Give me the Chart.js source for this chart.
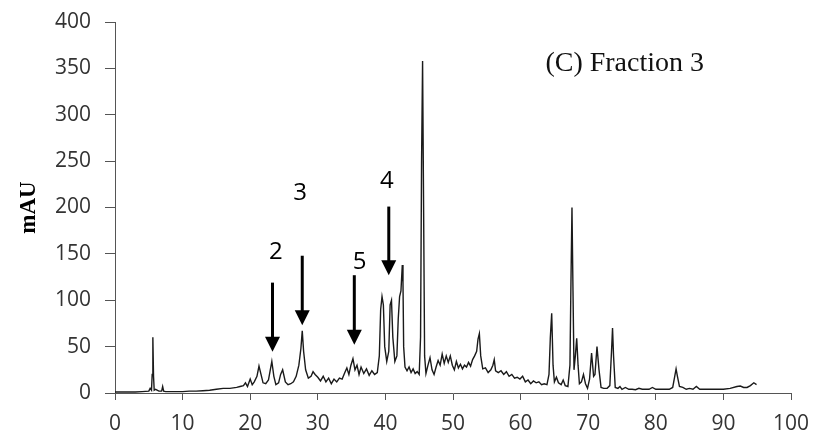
<!DOCTYPE html>
<html>
<head>
<meta charset="utf-8">
<script src="https://cdn.jsdelivr.net/npm/chart.js@4/dist/chart.umd.min.js"></script>
<style>
  body { margin: 0; background: #fff; }
  canvas { display: block; }
</style>
</head>
<body>
<canvas id="chart" width="816" height="439"></canvas>
<script>
// retention time (min) and absorbance (mAU)
const retentionTime = [
  0, 1, 2, 3, 4, 5, 5.2, 5.4, 5.5, 5.6,
  5.7, 5.8, 6.0, 6.5, 6.9, 7.05, 7.2, 7.5, 8, 9,
  10, 11, 12, 13, 14, 15, 16, 17, 18, 18.5,
  19, 19.3, 19.6, 20, 20.3, 20.6, 21, 21.3, 21.6, 21.9,
  22.3, 22.7, 23.0, 23.2, 23.5, 23.8, 24.2, 24.5, 24.8, 25.2,
  25.6, 26.0, 26.4, 26.8, 27.2, 27.5, 27.7, 27.9, 28.2, 28.6,
  29.0, 29.3, 29.6, 30.0, 30.4, 30.8, 31.2, 31.6, 32.0, 32.4,
  32.8, 33.2, 33.6, 34.0, 34.3, 34.6, 34.9, 35.2, 35.5, 35.8,
  36.1, 36.4, 36.8, 37.2, 37.6, 38.0, 38.4, 38.8, 39.1, 39.3,
  39.5, 39.7, 39.9, 40.2, 40.5, 40.7, 40.9, 41.1, 41.4, 41.7,
  41.9, 42.1, 42.3, 42.5, 42.6, 42.7, 42.9, 43.2, 43.5, 43.8,
  44.1, 44.4, 44.7, 45.0, 45.2, 45.35, 45.5, 45.65, 45.8, 46.0,
  46.3, 46.6, 46.9, 47.2, 47.5, 47.8, 48.1, 48.4, 48.7, 49.0,
  49.3, 49.6, 49.9, 50.2, 50.5, 50.8, 51.1, 51.4, 51.7, 52.0,
  52.3, 52.6, 52.9, 53.2, 53.5, 53.7, 53.9, 54.1, 54.4, 54.8,
  55.2, 55.6, 55.9, 56.1, 56.3, 56.7, 57.1, 57.5, 57.9, 58.3,
  58.7, 59.1, 59.5, 59.9, 60.3, 60.7, 61.1, 61.5, 61.9, 62.3,
  62.7, 63.1, 63.5, 63.9, 64.2, 64.4, 64.6, 64.8, 65.0, 65.3,
  65.6, 66.0, 66.3, 66.6, 67.0, 67.3, 67.45, 67.6, 67.75, 67.9,
  68.1, 68.3, 68.5, 68.7, 69.0, 69.3, 69.6, 69.9, 70.2, 70.5,
  70.8, 71.0, 71.3, 71.6, 71.9, 72.3, 72.8, 73.2, 73.45, 73.6,
  73.75, 74.0, 74.4, 74.7, 75.0, 75.5, 76.0, 76.5, 77.0, 77.5,
  78.0, 78.5, 79.0, 79.5, 80.0, 81.0, 82.0, 82.5, 82.8, 83.0,
  83.2, 83.5, 84.0, 84.5, 85.0, 85.5, 86.0, 86.5, 87, 88,
  89, 90, 91, 92, 92.5, 93, 93.5, 94, 94.5, 94.9
];
const absorbance = [
  1, 1, 1, 1, 1.5, 2, 5, 3, 20, 60,
  18, 3, 4, 2, 2, 7, 2, 1.5, 1.5, 1.5,
  1.5, 2, 2, 2.5, 3, 4, 5, 5, 6, 7,
  8, 11, 7, 15, 9, 12, 18, 29, 20, 11,
  10, 14, 26, 34, 18, 9, 11, 20, 25, 12,
  9, 10, 12, 18, 30, 48, 67, 45, 25, 16,
  18, 23, 20, 17, 13, 18, 12, 16, 10, 15,
  12, 16, 15, 22, 27, 20, 30, 37, 25, 30,
  20, 28, 21, 26, 19, 24, 20, 22, 40, 90,
  104, 95, 50, 34, 45, 95, 100, 60, 34, 40,
  80, 104, 110, 138, 120, 50, 28, 24, 28, 22,
  26, 21, 23, 20, 60, 250, 358, 200, 40, 21,
  30, 38, 25, 20, 28, 35, 30, 42, 32, 40,
  33, 40, 30, 25, 34, 27, 31, 26, 30, 28,
  33, 29, 36, 40, 45, 58, 64, 40, 26, 27,
  22, 25, 30, 36, 24, 22, 24, 20, 23, 18,
  20, 16, 17, 15, 18, 12, 14, 10, 13, 11,
  12, 9, 10, 9, 20, 60, 86, 30, 12, 17,
  11, 9, 14, 8, 7, 30, 120, 200, 110, 25,
  40, 59, 30, 10, 12, 20, 10, 5, 15, 43,
  18, 20, 50, 25, 6, 5, 5, 8, 45, 70,
  40, 6, 5, 7, 4, 6, 4, 4, 3.5, 5,
  4, 4, 4, 6, 4, 4, 4, 6, 18, 26,
  18, 7, 6, 4, 5, 4, 7, 4, 4, 4,
  4, 4, 5, 7, 7.5, 6, 6, 8, 11, 9
];

// peak labels with arrows: label, shaft x, shaft top, arrow tip, label position
const peakLabels = ["2", "3", "5", "4"];
const arrowX = [23.3, 27.7, 35.4, 40.5];
const arrowTop = [119, 148, 127, 201];
const arrowTip = [44.5, 73, 52, 127];
const labelX = [23.8, 27.4, 36.2, 40.2];
const labelY = [152, 215, 141, 228];

const panelTitle = "(C) Fraction 3";

const points = retentionTime.map((t, i) => ({ x: t, y: absorbance[i] }));

const annotate = {
  id: "annotate",
  afterDatasetsDraw(chart) {
    const ctx = chart.ctx;
    const xs = chart.scales.x;
    const ys = chart.scales.y;
    ctx.save();
    ctx.fillStyle = "#000";
    ctx.strokeStyle = "#000";
    ctx.textAlign = "center";
    ctx.textBaseline = "middle";
    ctx.font = "24px 'Open Sans'";
    peakLabels.forEach((lab, i) => {
      const x = xs.getPixelForValue(arrowX[i]);
      const top = ys.getPixelForValue(arrowTop[i]);
      const tip = ys.getPixelForValue(arrowTip[i]);
      ctx.lineWidth = 3;
      ctx.beginPath();
      ctx.moveTo(x, top);
      ctx.lineTo(x, tip - 12);
      ctx.stroke();
      ctx.beginPath();
      ctx.moveTo(x - 7.5, tip - 15);
      ctx.lineTo(x + 7.5, tip - 15);
      ctx.lineTo(x, tip);
      ctx.closePath();
      ctx.fill();
      ctx.fillText(lab, xs.getPixelForValue(labelX[i]), ys.getPixelForValue(labelY[i]));
    });
    ctx.font = "28px 'Liberation Serif'";
    ctx.fillStyle = "#111";
    ctx.fillText(panelTitle, xs.getPixelForValue(75.4), ys.getPixelForValue(355));
    ctx.restore();
  }
};

new Chart(document.getElementById("chart"), {
  type: "line",
  data: {
    datasets: [{
      data: points,
      borderColor: "#1a1a1a",
      borderWidth: 1.4,
      pointRadius: 0,
      tension: 0,
      fill: false
    }]
  },
  options: {
    responsive: false,
    animation: false,
    layout: { padding: { top: 22, right: 25, left: 0, bottom: 0 } },
    plugins: { legend: { display: false }, tooltip: { enabled: false } },
    scales: {
      x: {
        type: "linear",
        min: 0,
        max: 100,
        ticks: { stepSize: 10, color: "#333", font: { family: "Open Sans", size: 21 }, padding: 11, maxRotation: 0 },
        grid: { drawOnChartArea: false, drawTicks: true, tickLength: 7, color: "#555" },
        border: { color: "#555", width: 1 },
        afterFit(scale) {
          scale.height = 46;
          scale.paddingLeft = 0;
          scale.paddingRight = 0;
        }
      },
      y: {
        min: 0,
        max: 400,
        ticks: { stepSize: 50, color: "#333", font: { family: "Open Sans", size: 21 }, padding: 14 },
        grid: { drawOnChartArea: false, drawTicks: true, tickLength: 10, color: "#555" },
        border: { color: "#555", width: 1 },
        title: {
          display: true,
          text: "mAU",
          color: "#000",
          font: { family: "Liberation Serif", size: 23, weight: "bold" },
          padding: { top: 15, bottom: 0 }
        },
        afterFit(scale) {
          scale.width = 115;
          scale.paddingTop = 0;
          scale.paddingBottom = 0;
        }
      }
    }
  },
  plugins: [annotate]
});
</script>
</body>
</html>
